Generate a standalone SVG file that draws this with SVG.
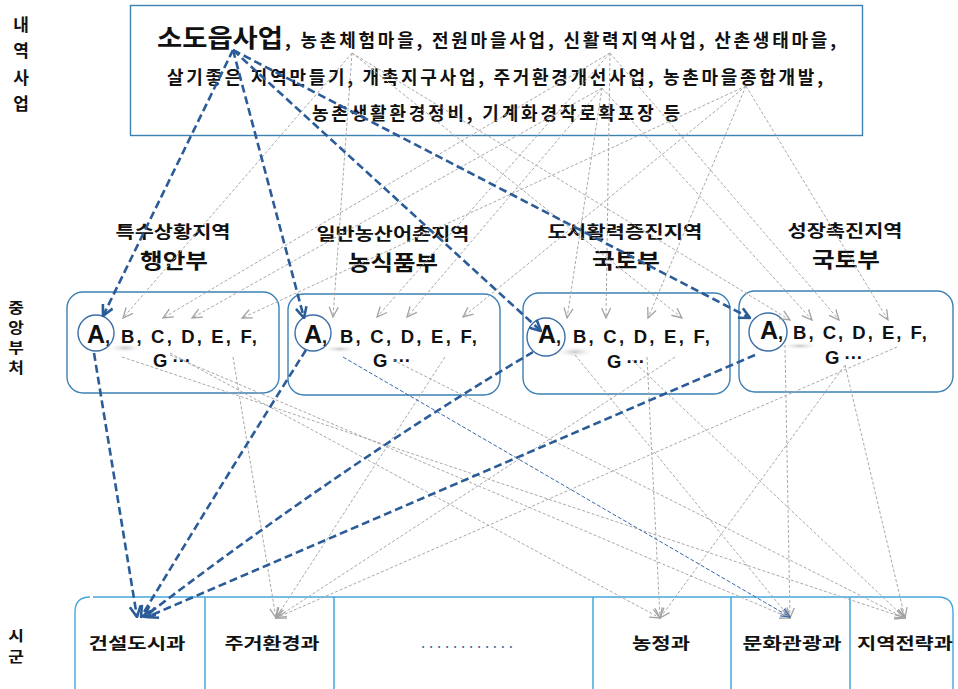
<svg xmlns="http://www.w3.org/2000/svg" width="958" height="689" viewBox="0 0 958 689">
<defs>
<style>
text{font-family:"Noto Sans CJK KR","Liberation Sans",sans-serif;font-weight:bold;fill:#111}
.side{font-size:17px;text-anchor:middle}
.sq{font-size:17px;text-anchor:middle}
.b{fill:none;stroke:#2b5c97;stroke-width:2.6;stroke-dasharray:8 4}
.bt{fill:none;stroke:#3a68a8;stroke-width:1;stroke-dasharray:4 2}
.g{fill:none;stroke:#a9a9a9;stroke-width:1;stroke-dasharray:3 2}
.box{fill:#fff;stroke:#3d80b2;stroke-width:1.4}
.circ{fill:none;stroke:#3e6fa8;stroke-width:1.4}
.div{stroke:#45a6dc;stroke-width:1.5}
.ltr{font-family:"Liberation Sans",Arial,sans-serif;font-size:18.5px}
.big{font-family:"Liberation Sans",Arial,sans-serif;font-size:25px}
.cat{font-size:17px;text-anchor:middle}
.min{font-size:21px;text-anchor:middle}
.gun{font-size:16px;text-anchor:middle}
.pr{font-size:18px}
</style>
<marker id="ab" viewBox="0 0 12 12" refX="11" refY="6" markerWidth="13" markerHeight="13" orient="auto" markerUnits="userSpaceOnUse"><path d="M1,1 L11,6 L1,11" fill="none" stroke="#2b5c97" stroke-width="2.4" stroke-dasharray="none"/></marker>
<marker id="ag" viewBox="0 0 12 12" refX="11" refY="6" markerWidth="12" markerHeight="12" orient="auto" markerUnits="userSpaceOnUse"><path d="M1,1.5 L11,6 L1,10.5" fill="none" stroke="#a3a3a3" stroke-width="1.3" stroke-dasharray="none"/></marker>
<marker id="at" viewBox="0 0 12 12" refX="11" refY="6" markerWidth="11" markerHeight="11" orient="auto" markerUnits="userSpaceOnUse"><path d="M1,1.5 L11,6 L1,10.5" fill="none" stroke="#3a68a8" stroke-width="1.3" stroke-dasharray="none"/></marker>
<radialGradient id="sh" cx="0.5" cy="0.5" r="0.5"><stop offset="0" stop-color="#c8c8c8"/><stop offset="1" stop-color="#ffffff" stop-opacity="0"/></radialGradient>
</defs>
<rect width="958" height="689" fill="#fff"/>

<g id="side-labels">
<text class="side" x="21" y="31">내</text>
<text class="side" x="21" y="57">역</text>
<text class="side" x="21" y="84">사</text>
<text class="side" x="21" y="110">업</text>
<text class="sq" transform="translate(16,313) scale(1,0.86)">중</text>
<text class="sq" transform="translate(16,333) scale(1,0.86)">앙</text>
<text class="sq" transform="translate(16,353) scale(1,0.86)">부</text>
<text class="sq" transform="translate(16,373) scale(1,0.86)">처</text>
<text class="sq" transform="translate(16,641) scale(1,0.86)">시</text>
<text class="sq" transform="translate(16,662) scale(1,0.86)">군</text>
</g>

<g id="projects">
<rect x="130.5" y="5.5" width="732" height="130" fill="#fff" stroke="#3d80b2" stroke-width="1.4"/>
<text x="157" y="47" font-size="25" textLength="126" lengthAdjust="spacingAndGlyphs">소도읍사업</text>
<text class="pr" x="285" y="47" textLength="551" lengthAdjust="spacing">, 농촌체험마을, 전원마을사업, 신활력지역사업, 산촌생태마을,</text>
<text class="pr" x="167" y="84" textLength="656" lengthAdjust="spacing">살기좋은 지역만들기, 개촉지구사업, 주거환경개선사업, 농촌마을종합개발,</text>
<text class="pr" x="312" y="120" textLength="368" lengthAdjust="spacing">농촌생활환경정비, 기계화경작로확포장 등</text>
</g>

<g id="categories">
<text class="cat" x="173" y="238" textLength="115" lengthAdjust="spacingAndGlyphs">특수상황지역</text>
<text class="min" x="174" y="268" textLength="68" lengthAdjust="spacingAndGlyphs">행안부</text>
<text class="cat" x="393" y="240" textLength="153" lengthAdjust="spacingAndGlyphs">일반농산어촌지역</text>
<text class="min" x="393" y="270" textLength="90" lengthAdjust="spacingAndGlyphs">농식품부</text>
<text class="cat" x="625" y="238" textLength="155" lengthAdjust="spacingAndGlyphs">도서활력증진지역</text>
<text class="min" x="626" y="268" textLength="68" lengthAdjust="spacingAndGlyphs">국토부</text>
<text class="cat" x="845" y="237" textLength="115" lengthAdjust="spacingAndGlyphs">성장촉진지역</text>
<text class="min" x="846" y="267" textLength="68" lengthAdjust="spacingAndGlyphs">국토부</text>
</g>

<g id="ministry-1">
<rect class="box" x="67" y="292" width="212" height="101" rx="16"/>
<ellipse cx="125" cy="348" rx="18" ry="5" fill="url(#sh)"/>
<circle class="circ" cx="96" cy="333" r="18"/>
<text class="big" x="87" y="343">A<tspan font-size="18">,</tspan></text>
<text class="ltr" x="121" y="343" textLength="136" lengthAdjust="spacing">B, C, D, E, F,</text>
<text class="ltr" x="153" y="367">G ···</text>
</g>
<g id="ministry-2">
<rect class="box" x="288" y="294" width="212" height="101" rx="16"/>
<ellipse cx="340" cy="349" rx="18" ry="4" fill="url(#sh)"/>
<circle class="circ" cx="313" cy="333" r="18"/>
<text class="big" x="304" y="343">A<tspan font-size="18">,</tspan></text>
<text class="ltr" x="340" y="343" textLength="137" lengthAdjust="spacing">B, C, D, E, F,</text>
<text class="ltr" x="373" y="367">G ···</text>
</g>
<g id="ministry-3">
<rect class="box" x="523" y="293" width="207" height="101" rx="16"/>
<ellipse cx="575" cy="352" rx="20" ry="6" fill="url(#sh)"/>
<circle class="circ" cx="546" cy="337" r="19"/>
<text class="big" x="538" y="343">A<tspan font-size="18">,</tspan></text>
<text class="ltr" x="573" y="343" textLength="137" lengthAdjust="spacing">B, C, D, E, F,</text>
<text class="ltr" x="607" y="368">G ···</text>
</g>
<g id="ministry-4">
<rect class="box" x="739" y="291" width="214" height="101" rx="16"/>
<ellipse cx="800" cy="346" rx="20" ry="4" fill="url(#sh)"/>
<circle class="circ" cx="768" cy="332" r="19"/>
<text class="big" x="760" y="339">A<tspan font-size="18">,</tspan></text>
<text class="ltr" x="793" y="339" textLength="134" lengthAdjust="spacing">B, C, D, E, F,</text>
<text class="ltr" x="825" y="364">G ···</text>
</g>

<g id="departments">
<path d="M93,597 H938 Q953,597 953,612 V689 M75,689 V612 Q75,597 90,597" fill="#fff" stroke="#45a6dc" stroke-width="1.4"/>
<line class="div" x1="205" y1="597" x2="205" y2="689"/>
<line class="div" x1="334" y1="597" x2="334" y2="689"/>
<line class="div" x1="593" y1="597" x2="593" y2="689"/>
<line class="div" x1="731" y1="597" x2="731" y2="689"/>
<line class="div" x1="850" y1="597" x2="850" y2="689"/>
<text class="gun" x="137" y="649" textLength="97" lengthAdjust="spacingAndGlyphs">건설도시과</text>
<text class="gun" x="272" y="649" textLength="95" lengthAdjust="spacingAndGlyphs">주거환경과</text>
<text x="421" y="648" font-size="15" style="fill:#3b6ea8;font-weight:normal" textLength="92" lengthAdjust="spacing">............</text>
<text class="gun" x="661" y="649" textLength="58" lengthAdjust="spacingAndGlyphs">농정과</text>
<text class="gun" x="792" y="649" textLength="99" lengthAdjust="spacingAndGlyphs">문화관광과</text>
<text class="gun" x="905" y="649" textLength="96" lengthAdjust="spacingAndGlyphs">지역전략과</text>
</g>

<g id="connectors">
<g marker-end="url(#ag)">
<path class="g" d="M352,53 L123,318"/>
<path class="g" d="M352,53 L333,317"/>
<path class="g" d="M352,53 L682,318"/>
<path class="g" d="M352,53 L790,320"/>
<path class="g" d="M610,53 L377,317"/>
<path class="g" d="M610,53 L606,318"/>
<path class="g" d="M610,53 L163,318"/>
<path class="g" d="M610,53 L839,320"/>
<path class="g" d="M602,88 L192,318"/>
<path class="g" d="M602,88 L407,317"/>
<path class="g" d="M602,88 L567,318"/>
<path class="g" d="M602,88 L812,320"/>
<path class="g" d="M746,86 L242,318"/>
<path class="g" d="M746,86 L463,317"/>
<path class="g" d="M746,86 L648,318"/>
<path class="g" d="M746,86 L888,320"/>
<path class="g" d="M122,357 L905,618"/>
<path class="g" d="M170,353 L660,618"/>
<path class="g" d="M170,355 L790,618"/>
<path class="g" d="M233,357 L276,618"/>
<path class="g" d="M393,360 L905,618"/>
<path class="g" d="M445,357 L276,618"/>
<path class="g" d="M575,355 L790,618"/>
<path class="g" d="M632,360 L905,618"/>
<path class="g" d="M647,357 L660,618"/>
<path class="g" d="M675,357 L276,618"/>
<path class="g" d="M785,345 L790,618"/>
<path class="g" d="M845,365 L660,618"/>
<path class="g" d="M845,365 L905,618"/>
<path class="g" d="M897,347 L276,618"/>
</g>
<path class="bt" d="M343,357 L790,617" marker-end="url(#at)"/>
<g marker-end="url(#ab)">
<path class="b" d="M233,50 L103,316"/>
<path class="b" d="M233,50 L304,318"/>
<path class="b" d="M233,50 L541,331"/>
<path class="b" d="M233,50 L750,318"/>
<path class="b" d="M94,353 L137,617"/>
<path class="b" d="M306,350 Q230,470 141,617"/>
<path class="b" d="M533,352 Q350,460 144,617"/>
<path class="b" d="M755,355 L147,617"/>
</g>
</g>
</svg>
